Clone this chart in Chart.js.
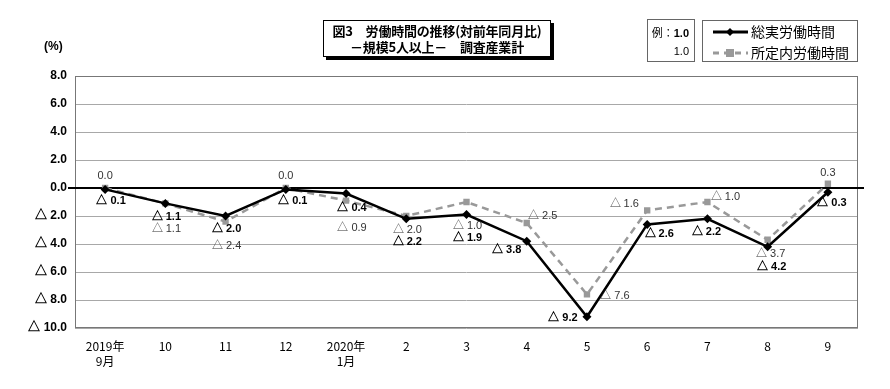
<!DOCTYPE html>
<html><head><meta charset="utf-8">
<script src="https://cdn.jsdelivr.net/npm/chart.js@4"></script>
<style>
@font-face{font-family:"Tri";src:local("Noto Sans CJK JP"),local("Noto Sans CJK JP Regular"),local("NotoSansCJKjp-Regular"),local("DejaVu Sans");unicode-range:U+25B3;}
body{margin:0;background:#fff;}
#wrap{position:relative;width:890px;height:389px;}
canvas{position:absolute;left:0;top:0;}
.box{position:absolute;box-sizing:border-box;background:#fff;font-family:"Noto Sans CJK JP",sans-serif;color:#000;will-change:transform;}
#title{left:323px;top:20px;width:228px;height:37px;border:1px solid #000;box-shadow:3px 3px 0 #000;font-weight:bold;font-size:13px;line-height:16px;text-align:center;padding-top:2px;letter-spacing:-0.2px;}
#ex{left:647px;top:19px;width:48px;height:43px;border:1px solid #666;font-size:11px;text-align:right;padding:4px 5px 0 0;line-height:17px;}
#leg{left:702px;top:20px;width:156px;height:42px;border:1px solid #666;font-size:14px;line-height:21px;padding-top:0px;}
.row{position:relative;height:21px;}
.row span{position:absolute;left:48px;top:0;white-space:nowrap;}
.row svg{position:absolute;left:9px;top:4px;}
#pct{position:absolute;left:44px;top:39px;font-family:"Liberation Sans",sans-serif;font-weight:bold;font-size:12px;}
</style></head>
<body>
<div id="wrap">
<canvas id="c" width="890" height="389"></canvas>
<div id="pct">(%)</div>
<div class="box" id="title">図3　労働時間の推移(対前年同月比)<br>－規模5人以上－　調査産業計</div>
<div class="box" id="ex"><span>例：</span><b style="font-family:'Liberation Sans'">1.0</b><br><span style="font-family:'Liberation Sans'">1.0</span></div>
<div class="box" id="leg">
 <div class="row"><svg width="36" height="14"><line x1="1" y1="7" x2="36" y2="7" stroke="#000" stroke-width="3"/><polygon points="18,3 22,7 18,11 14,7" fill="#000"/></svg><span id="l1"></span></div>
 <div class="row"><svg width="36" height="14"><line x1="1" y1="7" x2="36" y2="7" stroke="#999" stroke-width="3" stroke-dasharray="6,5"/><rect x="14" y="3" width="8" height="8" fill="#999"/></svg><span id="l2"></span></div>
</div>
</div>
<script>
const categories = [['2019年','9月'],'10','11','12',['2020年','1月'],'2','3','4','5','6','7','8','9'];
const totalHours = [-0.1,-1.1,-2.0,-0.1,-0.4,-2.2,-1.9,-3.8,-9.2,-2.6,-2.2,-4.2,-0.3];
const scheduledHours = [0.0,-1.1,-2.4,0.0,-0.9,-2.0,-1.0,-2.5,-7.6,-1.6,-1.0,-3.7,0.3];
const seriesNames = ['総実労働時間','所定内労働時間'];
const yTicks = [8,6,4,2,0,-2,-4,-6,-8,-10];

// label offsets [dx, dy] relative to the point (placement only)
const totalLabelOffsets = [[6,12],[1,14],[1,13],[7,12],[6,14],[1,23],[1,23],[-20,9],[-24,1],[12,10],[-1,13],[4,20],[4,11]];
const schedLabelOffsets = [[0,-12],[1,26],[1,24],[0,-12],[6,27],[1,14],[1,24],[16,-7],[28,2],[-23,-6],[18,-5],[3,14],[0,-11]];

document.getElementById('l1').textContent = seriesNames[0];
document.getElementById('l2').textContent = seriesNames[1];

function fmt(v){
  return v < 0 ? '△ ' + Math.abs(v).toFixed(1) : v.toFixed(1);
}

const labelPlugin = {
  id:'labels',
  afterDatasetsDraw(chart){
    const ctx = chart.ctx;
    const offs = [totalLabelOffsets, schedLabelOffsets];
    ctx.save();
    ctx.textAlign='center';
    ctx.textBaseline='middle';
    chart.data.datasets.forEach((ds,di)=>{
      const meta = chart.getDatasetMeta(di);
      meta.data.forEach((pt,i)=>{
        const v = ds.data[i];
        const o = offs[di][i];
        ctx.font = (di===0?'bold ':'') + '11px Tri,"Liberation Sans Narrow","Liberation Sans","DejaVu Sans",sans-serif';
        ctx.fillStyle = di===0 ? '#000' : '#333';
        ctx.fillText(fmt(v), pt.x + o[0], pt.y + o[1]);
      });
    });
    ctx.restore();
  }
};

const framePlugin = {
  id:'frame',
  beforeDatasetsDraw(chart){
    const {ctx, chartArea:a} = chart;
    const y0 = chart.scales.y.getPixelForValue(0);
    ctx.save();
    ctx.strokeStyle='#777';
    ctx.lineWidth=1;
    ctx.strokeRect(a.left+0.5, a.top+0.5, a.right-a.left-1, a.bottom-a.top-1);
    ctx.strokeStyle='#000';
    ctx.lineWidth=2;
    ctx.beginPath();
    ctx.moveTo(a.left-7, Math.round(y0));
    ctx.lineTo(a.right+6, Math.round(y0));
    ctx.stroke();
    ctx.restore();
  }
};

function draw(){
new Chart(document.getElementById('c'), {
  type:'line',
  data:{
    labels:categories,
    datasets:[
      {label:seriesNames[0], data:totalHours, borderColor:'#000', backgroundColor:'#000', borderWidth:2.5, pointStyle:'rectRot', pointRadius:4.5, pointBorderWidth:0, tension:0, order:1},
      {label:seriesNames[1], data:scheduledHours, borderColor:'#999', backgroundColor:'#999', borderWidth:2.5, borderDash:[7,5], pointStyle:'rect', pointRadius:4.5, pointBorderWidth:0, tension:0, order:2}
    ]
  },
  options:{
    responsive:false,
    animation:false,
    devicePixelRatio:1,
    layout:{padding:{left:0,right:32,top:76,bottom:0}},
    plugins:{legend:{display:false},title:{display:false},tooltip:{enabled:false}},
    scales:{
      x:{
        offset:true,
        grid:{display:false, drawTicks:false},
        border:{display:false},
        ticks:{color:'#000', padding:11, maxRotation:0, autoSkip:false, font:{family:'"Liberation Sans Narrow","Noto Sans CJK JP",sans-serif', size:12, lineHeight:1.25}},
        afterFit(s){ s.height = 61; }
      },
      y:{
        min:-10, max:8,
        afterBuildTicks(s){ s.ticks = yTicks.map(v=>({value:v})); },
        grid:{drawTicks:false, color(c){ return c.tick && c.tick.value===0 ? 'rgba(0,0,0,0)' : '#a8a8a8'; }, lineWidth:1},
        border:{display:false},
        ticks:{color:'#000', padding:8, font:{family:'Tri,"Liberation Sans","DejaVu Sans",sans-serif', size:12, weight:'bold'}, callback(v){ return fmt(v); }},
        afterFit(s){ s.width = 75; }
      }
    }
  },
  plugins:[framePlugin,labelPlugin]
});
}
Promise.all([
  document.fonts.load('bold 11px Tri','△'),
  document.fonts.load('11px Tri','△'),
  document.fonts.load('bold 12px Tri','△')
]).catch(()=>{}).then(draw);
</script>
</body></html>
